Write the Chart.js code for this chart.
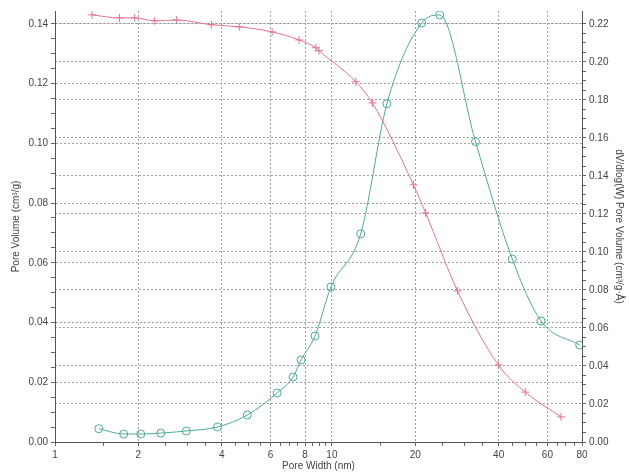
<!DOCTYPE html>
<html lang="en">
  <head>
    <meta charset="UTF-8" />
    <title>Pore Volume vs Pore Width</title>
    <script src="https://cdn.jsdelivr.net/npm/chart.js"></script>
    <style>
      body { margin: 0; background: #fff; }
    </style>
  </head>
  <body>
    <canvas id="poreChart" width="629" height="473"></canvas>

    <script>
      // cumulative pore volume (left axis)
      const cumWidth = [1.36, 1.71, 1.94, 2.29, 2.75, 3.67, 4.63, 6.08, 7.61, 8.75, 8.98, 12.2, 14.0, 19.7, 21.8, 28.4, 39.9, 49.9, 67.2];
      const cumVolume = [0.143, 0.142, 0.142, 0.141, 0.1413, 0.1397, 0.139, 0.1373, 0.1346, 0.132, 0.131, 0.1206, 0.1135, 0.0861, 0.0767, 0.0506, 0.0258, 0.0167, 0.0084];

      // dV/dlog(W) pore volume (right axis)
      const diffWidth = [1.44, 1.77, 2.04, 2.41, 2.98, 3.86, 4.95, 6.34, 7.24, 7.74, 8.69, 9.92, 12.7, 15.8, 21.1, 24.5, 33.0, 44.8, 56.9, 78.5];
      const diffVolume = [0.007, 0.0042, 0.0042, 0.0047, 0.0058, 0.0079, 0.0142, 0.0258, 0.0342, 0.0432, 0.0558, 0.0816, 0.1095, 0.178, 0.2205, 0.2247, 0.158, 0.0963, 0.0637, 0.051];

      const xLabelTicks = [1, 2, 4, 6, 8, 10, 20, 40, 60, 80];
      const xMinorTicks = [1.5, 2.5, 3, 3.5, 4.5, 5, 5.5, 6.5, 7, 7.5, 8.5, 9, 9.5, 15, 25, 30, 35, 45, 50, 55, 65, 70, 75];
      const leftTicks = [0, 0.02, 0.04, 0.06, 0.08, 0.1, 0.12, 0.14];
      const rightTicks = [0, 0.02, 0.04, 0.06, 0.08, 0.1, 0.12, 0.14, 0.16, 0.18, 0.2, 0.22];

      const toPoints = (xs, ys) => xs.map((x, i) => ({ x: x, y: ys[i] }));

      // majors plus 3 minor marks between each
      function yTicksWithMinor(majors) {
        const out = [];
        majors.forEach((v, i) => {
          out.push({ value: v, major: true });
          if (i < majors.length - 1) {
            const step = (majors[i + 1] - v) / 4;
            for (let k = 1; k < 4; k++) out.push({ value: v + step * k, major: false });
          }
        });
        return out;
      }

      const font = { family: "'Liberation Sans', Arial, sans-serif", size: 10 };
      const gridLine = (ctx) => (ctx.tick && ctx.tick.major ? "#a0a0a0" : "rgba(0,0,0,0)");

      const ctx = document.getElementById("poreChart").getContext("2d");
      new Chart(ctx, {
        type: "line",
        data: {
          datasets: [
            {
              label: "Cumulative Pore Volume",
              data: toPoints(cumWidth, cumVolume),
              yAxisID: "yLeft",
              borderColor: "#e6738a",
              borderWidth: 1,
              pointStyle: "cross",
              pointRadius: 4,
              pointBorderColor: "#e6738a",
              pointBorderWidth: 1,
              cubicInterpolationMode: "monotone",
              fill: false,
            },
            {
              label: "dV/dlog(W) Pore Volume",
              data: toPoints(diffWidth, diffVolume),
              yAxisID: "yRight",
              borderColor: "#4aac93",
              borderWidth: 1,
              pointStyle: "circle",
              pointRadius: 4,
              pointBackgroundColor: "rgba(255,255,255,0)",
              pointBorderColor: "#4aac93",
              pointBorderWidth: 1,
              cubicInterpolationMode: "monotone",
              fill: false,
            },
          ],
        },
        options: {
          responsive: false,
          animation: false,
          layout: { padding: { top: 11, left: 0, right: 0, bottom: 0 } },
          plugins: { legend: { display: false }, tooltip: { enabled: false } },
          scales: {
            x: {
              type: "logarithmic",
              min: 1,
              max: 80,
              afterBuildTicks: (s) => {
                s.ticks = xLabelTicks
                  .map((v) => ({ value: v, major: v !== 1 && v !== 80 }))
                  .concat(xMinorTicks.map((v) => ({ value: v, major: false })))
                  .sort((a, b) => a.value - b.value);
              },
              afterFit: (s) => { s.height = 31; },
              ticks: {
                autoSkip: false,
                maxRotation: 0,
                padding: 3,
                color: "#444",
                font: font,
                callback: (v) => (xLabelTicks.includes(v) ? String(v) : ""),
              },
              grid: { color: gridLine, tickColor: "#666", tickLength: 4, lineWidth: 1 },
              border: { color: "#555", width: 1, dash: [2, 2] },
              title: { display: true, text: "Pore Width (nm)", color: "#444", font: font, padding: { top: 0, bottom: 1 } },
            },
            yLeft: {
              type: "linear",
              position: "left",
              min: 0,
              max: 0.1443,
              afterBuildTicks: (s) => { s.ticks = yTicksWithMinor(leftTicks); },
              afterFit: (s) => { s.width = 55; },
              ticks: {
                autoSkip: false,
                padding: 3,
                color: "#444",
                font: font,
                callback: (v, i, t) => (t[i].major ? v.toFixed(2) : ""),
              },
              grid: { color: gridLine, tickColor: "#666", tickLength: 4, lineWidth: 1 },
              border: { color: "#555", width: 1, dash: [2, 2] },
              title: { display: true, text: "Pore Volume (cm³/g)", color: "#444", font: font, padding: { top: 10, bottom: 0 } },
            },
            yRight: {
              type: "linear",
              position: "right",
              min: 0,
              max: 0.2268,
              afterBuildTicks: (s) => { s.ticks = yTicksWithMinor(rightTicks); },
              afterFit: (s) => { s.width = 47; },
              ticks: {
                autoSkip: false,
                padding: 3,
                color: "#444",
                font: font,
                callback: (v, i, t) => (t[i].major ? v.toFixed(2) : ""),
              },
              grid: { color: gridLine, tickColor: "#666", tickLength: 4, lineWidth: 1, drawOnChartArea: true },
              border: { color: "#555", width: 1, dash: [2, 2] },
              title: { display: true, text: "dV/dlog(W) Pore Volume (cm³/g·Å)", color: "#444", font: font, padding: { top: 4, bottom: 0 } },
            },
          },
        },
      });
    </script>
  </body>
</html>
